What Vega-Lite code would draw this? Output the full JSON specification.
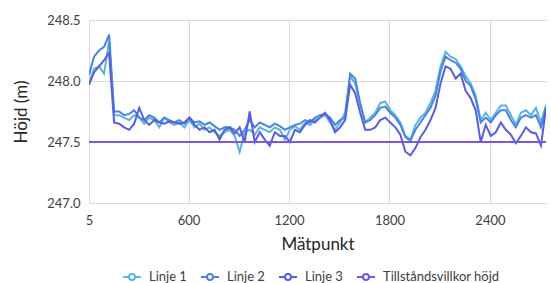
{
  "$schema": "https://vega.github.io/schema/vega-lite/v6.json",
  "width": 457,
  "height": 183,
  "autosize": "none",
  "padding": {"left": 89, "top": 20, "right": 5, "bottom": 80},
  "config": {
    "font": "Lato",
    "view": {"stroke": null},
    "axis": {
      "domain": false,
      "ticks": false,
      "tickSize": 0,
      "gridColor": "#d9d9d9",
      "gridWidth": 1,
      "labelColor": "#404040",
      "labelFontSize": 13,
      "titleColor": "#262626",
      "titleFontSize": 17,
      "titleFontWeight": "normal"
    }
  },
  "data": {
    "values": [
      {"m": 5, "Linje 1": 247.98, "Linje 2": 248.05, "Linje 3": 247.97, "Tillståndsvillkor höjd": 247.5},
      {"m": 35, "Linje 1": 248.10, "Linje 2": 248.20, "Linje 3": 248.07, "Tillståndsvillkor höjd": 247.5},
      {"m": 65, "Linje 1": 248.12, "Linje 2": 248.25, "Linje 3": 248.12, "Tillståndsvillkor höjd": 247.5},
      {"m": 95, "Linje 1": 248.06, "Linje 2": 248.28, "Linje 3": 248.17, "Tillståndsvillkor höjd": 247.5},
      {"m": 125, "Linje 1": 248.33, "Linje 2": 248.38, "Linje 3": 248.23, "Tillståndsvillkor höjd": 247.5},
      {"m": 155, "Linje 1": 247.72, "Linje 2": 247.75, "Linje 3": 247.66, "Tillståndsvillkor höjd": 247.5},
      {"m": 185, "Linje 1": 247.72, "Linje 2": 247.75, "Linje 3": 247.65, "Tillståndsvillkor höjd": 247.5},
      {"m": 215, "Linje 1": 247.70, "Linje 2": 247.72, "Linje 3": 247.62, "Tillståndsvillkor höjd": 247.5},
      {"m": 245, "Linje 1": 247.68, "Linje 2": 247.73, "Linje 3": 247.60, "Tillståndsvillkor höjd": 247.5},
      {"m": 275, "Linje 1": 247.72, "Linje 2": 247.76, "Linje 3": 247.65, "Tillståndsvillkor höjd": 247.5},
      {"m": 305, "Linje 1": 247.70, "Linje 2": 247.70, "Linje 3": 247.78, "Tillståndsvillkor höjd": 247.5},
      {"m": 335, "Linje 1": 247.65, "Linje 2": 247.68, "Linje 3": 247.68, "Tillståndsvillkor höjd": 247.5},
      {"m": 365, "Linje 1": 247.70, "Linje 2": 247.72, "Linje 3": 247.64, "Tillståndsvillkor höjd": 247.5},
      {"m": 395, "Linje 1": 247.68, "Linje 2": 247.70, "Linje 3": 247.68, "Tillståndsvillkor höjd": 247.5},
      {"m": 425, "Linje 1": 247.62, "Linje 2": 247.66, "Linje 3": 247.66, "Tillståndsvillkor höjd": 247.5},
      {"m": 455, "Linje 1": 247.70, "Linje 2": 247.70, "Linje 3": 247.65, "Tillståndsvillkor höjd": 247.5},
      {"m": 485, "Linje 1": 247.66, "Linje 2": 247.68, "Linje 3": 247.67, "Tillståndsvillkor höjd": 247.5},
      {"m": 515, "Linje 1": 247.64, "Linje 2": 247.66, "Linje 3": 247.66, "Tillståndsvillkor höjd": 247.5},
      {"m": 545, "Linje 1": 247.66, "Linje 2": 247.68, "Linje 3": 247.65, "Tillståndsvillkor höjd": 247.5},
      {"m": 575, "Linje 1": 247.62, "Linje 2": 247.65, "Linje 3": 247.66, "Tillståndsvillkor höjd": 247.5},
      {"m": 605, "Linje 1": 247.68, "Linje 2": 247.70, "Linje 3": 247.70, "Tillståndsvillkor höjd": 247.5},
      {"m": 635, "Linje 1": 247.62, "Linje 2": 247.66, "Linje 3": 247.64, "Tillståndsvillkor höjd": 247.5},
      {"m": 665, "Linje 1": 247.65, "Linje 2": 247.67, "Linje 3": 247.60, "Tillståndsvillkor höjd": 247.5},
      {"m": 695, "Linje 1": 247.60, "Linje 2": 247.64, "Linje 3": 247.62, "Tillståndsvillkor höjd": 247.5},
      {"m": 725, "Linje 1": 247.62, "Linje 2": 247.66, "Linje 3": 247.58, "Tillståndsvillkor höjd": 247.5},
      {"m": 755, "Linje 1": 247.58, "Linje 2": 247.63, "Linje 3": 247.60, "Tillståndsvillkor höjd": 247.5},
      {"m": 785, "Linje 1": 247.55, "Linje 2": 247.60, "Linje 3": 247.52, "Tillståndsvillkor höjd": 247.5},
      {"m": 815, "Linje 1": 247.58, "Linje 2": 247.62, "Linje 3": 247.60, "Tillståndsvillkor höjd": 247.5},
      {"m": 845, "Linje 1": 247.60, "Linje 2": 247.62, "Linje 3": 247.62, "Tillståndsvillkor höjd": 247.5},
      {"m": 875, "Linje 1": 247.55, "Linje 2": 247.60, "Linje 3": 247.57, "Tillståndsvillkor höjd": 247.5},
      {"m": 905, "Linje 1": 247.42, "Linje 2": 247.55, "Linje 3": 247.62, "Tillståndsvillkor höjd": 247.5},
      {"m": 935, "Linje 1": 247.58, "Linje 2": 247.60, "Linje 3": 247.50, "Tillståndsvillkor höjd": 247.5},
      {"m": 965, "Linje 1": 247.60, "Linje 2": 247.68, "Linje 3": 247.75, "Tillståndsvillkor höjd": 247.5},
      {"m": 995, "Linje 1": 247.56, "Linje 2": 247.62, "Linje 3": 247.50, "Tillståndsvillkor höjd": 247.5},
      {"m": 1025, "Linje 1": 247.62, "Linje 2": 247.66, "Linje 3": 247.58, "Tillståndsvillkor höjd": 247.5},
      {"m": 1055, "Linje 1": 247.60, "Linje 2": 247.64, "Linje 3": 247.52, "Tillståndsvillkor höjd": 247.5},
      {"m": 1085, "Linje 1": 247.58, "Linje 2": 247.62, "Linje 3": 247.47, "Tillståndsvillkor höjd": 247.5},
      {"m": 1115, "Linje 1": 247.62, "Linje 2": 247.65, "Linje 3": 247.58, "Tillståndsvillkor höjd": 247.5},
      {"m": 1145, "Linje 1": 247.60, "Linje 2": 247.63, "Linje 3": 247.55, "Tillståndsvillkor höjd": 247.5},
      {"m": 1175, "Linje 1": 247.52, "Linje 2": 247.60, "Linje 3": 247.55, "Tillståndsvillkor höjd": 247.5},
      {"m": 1205, "Linje 1": 247.60, "Linje 2": 247.62, "Linje 3": 247.50, "Tillståndsvillkor höjd": 247.5},
      {"m": 1235, "Linje 1": 247.63, "Linje 2": 247.64, "Linje 3": 247.60, "Tillståndsvillkor höjd": 247.5},
      {"m": 1265, "Linje 1": 247.60, "Linje 2": 247.65, "Linje 3": 247.58, "Tillståndsvillkor höjd": 247.5},
      {"m": 1295, "Linje 1": 247.66, "Linje 2": 247.68, "Linje 3": 247.64, "Tillståndsvillkor höjd": 247.5},
      {"m": 1325, "Linje 1": 247.64, "Linje 2": 247.66, "Linje 3": 247.68, "Tillståndsvillkor höjd": 247.5},
      {"m": 1355, "Linje 1": 247.68, "Linje 2": 247.70, "Linje 3": 247.66, "Tillståndsvillkor höjd": 247.5},
      {"m": 1385, "Linje 1": 247.70, "Linje 2": 247.72, "Linje 3": 247.70, "Tillståndsvillkor höjd": 247.5},
      {"m": 1415, "Linje 1": 247.72, "Linje 2": 247.73, "Linje 3": 247.74, "Tillståndsvillkor höjd": 247.5},
      {"m": 1445, "Linje 1": 247.66, "Linje 2": 247.70, "Linje 3": 247.68, "Tillståndsvillkor höjd": 247.5},
      {"m": 1475, "Linje 1": 247.60, "Linje 2": 247.64, "Linje 3": 247.58, "Tillståndsvillkor höjd": 247.5},
      {"m": 1505, "Linje 1": 247.66, "Linje 2": 247.68, "Linje 3": 247.62, "Tillståndsvillkor höjd": 247.5},
      {"m": 1535, "Linje 1": 247.74, "Linje 2": 247.70, "Linje 3": 247.68, "Tillståndsvillkor höjd": 247.5},
      {"m": 1565, "Linje 1": 248.04, "Linje 2": 248.06, "Linje 3": 247.97, "Tillståndsvillkor höjd": 247.5},
      {"m": 1595, "Linje 1": 247.98, "Linje 2": 248.02, "Linje 3": 247.90, "Tillståndsvillkor höjd": 247.5},
      {"m": 1625, "Linje 1": 247.80, "Linje 2": 247.82, "Linje 3": 247.74, "Tillståndsvillkor höjd": 247.5},
      {"m": 1655, "Linje 1": 247.66, "Linje 2": 247.66, "Linje 3": 247.60, "Tillståndsvillkor höjd": 247.5},
      {"m": 1685, "Linje 1": 247.70, "Linje 2": 247.68, "Linje 3": 247.60, "Tillståndsvillkor höjd": 247.5},
      {"m": 1715, "Linje 1": 247.74, "Linje 2": 247.72, "Linje 3": 247.62, "Tillståndsvillkor höjd": 247.5},
      {"m": 1745, "Linje 1": 247.82, "Linje 2": 247.78, "Linje 3": 247.68, "Tillståndsvillkor höjd": 247.5},
      {"m": 1775, "Linje 1": 247.83, "Linje 2": 247.79, "Linje 3": 247.70, "Tillståndsvillkor höjd": 247.5},
      {"m": 1805, "Linje 1": 247.76, "Linje 2": 247.74, "Linje 3": 247.66, "Tillståndsvillkor höjd": 247.5},
      {"m": 1835, "Linje 1": 247.72, "Linje 2": 247.70, "Linje 3": 247.62, "Tillståndsvillkor höjd": 247.5},
      {"m": 1865, "Linje 1": 247.66, "Linje 2": 247.64, "Linje 3": 247.56, "Tillståndsvillkor höjd": 247.5},
      {"m": 1895, "Linje 1": 247.55, "Linje 2": 247.54, "Linje 3": 247.42, "Tillståndsvillkor höjd": 247.5},
      {"m": 1925, "Linje 1": 247.52, "Linje 2": 247.51, "Linje 3": 247.39, "Tillståndsvillkor höjd": 247.5},
      {"m": 1955, "Linje 1": 247.64, "Linje 2": 247.60, "Linje 3": 247.45, "Tillståndsvillkor höjd": 247.5},
      {"m": 1985, "Linje 1": 247.70, "Linje 2": 247.66, "Linje 3": 247.54, "Tillståndsvillkor höjd": 247.5},
      {"m": 2015, "Linje 1": 247.74, "Linje 2": 247.72, "Linje 3": 247.60, "Tillståndsvillkor höjd": 247.5},
      {"m": 2045, "Linje 1": 247.82, "Linje 2": 247.78, "Linje 3": 247.68, "Tillståndsvillkor höjd": 247.5},
      {"m": 2075, "Linje 1": 247.92, "Linje 2": 247.88, "Linje 3": 247.78, "Tillståndsvillkor höjd": 247.5},
      {"m": 2105, "Linje 1": 248.12, "Linje 2": 248.08, "Linje 3": 247.98, "Tillståndsvillkor höjd": 247.5},
      {"m": 2135, "Linje 1": 248.24, "Linje 2": 248.20, "Linje 3": 248.12, "Tillståndsvillkor höjd": 247.5},
      {"m": 2165, "Linje 1": 248.20, "Linje 2": 248.17, "Linje 3": 248.10, "Tillståndsvillkor höjd": 247.5},
      {"m": 2195, "Linje 1": 248.18, "Linje 2": 248.15, "Linje 3": 248.02, "Tillståndsvillkor höjd": 247.5},
      {"m": 2225, "Linje 1": 248.12, "Linje 2": 248.10, "Linje 3": 248.06, "Tillståndsvillkor höjd": 247.5},
      {"m": 2255, "Linje 1": 248.04, "Linje 2": 248.00, "Linje 3": 247.92, "Tillståndsvillkor höjd": 247.5},
      {"m": 2285, "Linje 1": 247.98, "Linje 2": 247.96, "Linje 3": 247.86, "Tillståndsvillkor höjd": 247.5},
      {"m": 2315, "Linje 1": 247.88, "Linje 2": 247.85, "Linje 3": 247.76, "Tillståndsvillkor höjd": 247.5},
      {"m": 2345, "Linje 1": 247.68, "Linje 2": 247.66, "Linje 3": 247.50, "Tillståndsvillkor höjd": 247.5},
      {"m": 2375, "Linje 1": 247.74, "Linje 2": 247.70, "Linje 3": 247.64, "Tillståndsvillkor höjd": 247.5},
      {"m": 2405, "Linje 1": 247.68, "Linje 2": 247.66, "Linje 3": 247.55, "Tillståndsvillkor höjd": 247.5},
      {"m": 2435, "Linje 1": 247.74, "Linje 2": 247.72, "Linje 3": 247.58, "Tillståndsvillkor höjd": 247.5},
      {"m": 2465, "Linje 1": 247.80, "Linje 2": 247.76, "Linje 3": 247.66, "Tillståndsvillkor höjd": 247.5},
      {"m": 2495, "Linje 1": 247.80, "Linje 2": 247.76, "Linje 3": 247.60, "Tillståndsvillkor höjd": 247.5},
      {"m": 2525, "Linje 1": 247.72, "Linje 2": 247.68, "Linje 3": 247.56, "Tillståndsvillkor höjd": 247.5},
      {"m": 2555, "Linje 1": 247.64, "Linje 2": 247.62, "Linje 3": 247.49, "Tillståndsvillkor höjd": 247.5},
      {"m": 2585, "Linje 1": 247.74, "Linje 2": 247.70, "Linje 3": 247.55, "Tillståndsvillkor höjd": 247.5},
      {"m": 2615, "Linje 1": 247.76, "Linje 2": 247.72, "Linje 3": 247.62, "Tillståndsvillkor höjd": 247.5},
      {"m": 2645, "Linje 1": 247.72, "Linje 2": 247.70, "Linje 3": 247.58, "Tillståndsvillkor höjd": 247.5},
      {"m": 2675, "Linje 1": 247.78, "Linje 2": 247.72, "Linje 3": 247.57, "Tillståndsvillkor höjd": 247.5},
      {"m": 2705, "Linje 1": 247.66, "Linje 2": 247.62, "Linje 3": 247.47, "Tillståndsvillkor höjd": 247.5},
      {"m": 2735, "Linje 1": 247.80, "Linje 2": 247.78, "Linje 3": 247.78, "Tillståndsvillkor höjd": 247.5}
    ]
  },
  "transform": [
    {"fold": ["Linje 1", "Linje 2", "Linje 3", "Tillståndsvillkor höjd"], "as": ["serie", "hojd"]}
  ],
  "mark": {"type": "line", "strokeWidth": 2, "clip": true},
  "encoding": {
    "x": {
      "field": "m",
      "type": "quantitative",
      "scale": {"domain": [5, 2735], "nice": false, "zero": false},
      "axis": {
        "values": [5, 600, 1200, 1800, 2400],
        "format": "d",
        "labelFlush": false,
        "title": "Mätpunkt",
        "labelPadding": 11,
        "titleY": 41,
        "titleBaseline": "middle"
      }
    },
    "y": {
      "field": "hojd",
      "type": "quantitative",
      "scale": {"domain": [247, 248.5], "nice": false, "zero": false},
      "axis": {
        "values": [247, 247.5, 248, 248.5],
        "format": ".1f",
        "title": "Höjd (m)",
        "labelPadding": 9,
        "titleX": -68,
        "titleY": 91.5,
        "titleBaseline": "middle",
        "titleAlign": "center",
        "titleAngle": -90
      }
    },
    "color": {
      "field": "serie",
      "type": "nominal",
      "scale": {
        "domain": ["Linje 1", "Linje 2", "Linje 3", "Tillståndsvillkor höjd"],
        "range": ["#5ab4dc", "#4a84e0", "#5660dc", "#7a58dc"]
      },
      "legend": {
        "title": null,
        "orient": "none",
        "direction": "horizontal",
        "legendX": 33,
        "legendY": 247,
        "symbolType": "M-1,0H-0.33M0.33,0H1M0.33,0A0.33,0.33 0 1,1 -0.33,0A0.33,0.33 0 1,1 0.33,0",
        "symbolSize": 324,
        "symbolStrokeWidth": 2,
        "symbolFillColor": "white",
        "labelFontSize": 13,
        "labelColor": "#404040",
        "labelOffset": 7,
        "columnPadding": 10
      }
    }
  }
}
